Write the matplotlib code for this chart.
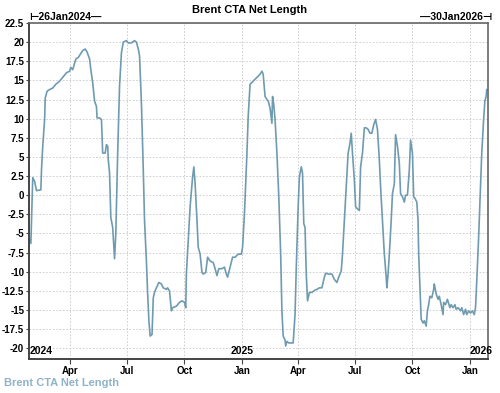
import matplotlib
matplotlib.use('Agg')
import matplotlib.pyplot as plt
import matplotlib.transforms as mtransforms
import pandas as pd

# Brent CTA net length
dates = [
    '2024-01-26', '2024-01-29', '2024-02-01', '2024-02-04', '2024-02-07', '2024-02-14',
    '2024-02-15', '2024-02-17', '2024-02-20', '2024-02-21', '2024-02-24', '2024-02-28',
    '2024-03-04', '2024-03-09', '2024-03-15', '2024-03-20', '2024-03-26', '2024-03-31',
    '2024-04-02', '2024-04-05', '2024-04-10', '2024-04-14', '2024-04-17', '2024-04-21',
    '2024-04-25', '2024-04-28', '2024-05-02', '2024-05-04', '2024-05-07', '2024-05-10',
    '2024-05-13', '2024-05-14', '2024-05-18', '2024-05-21', '2024-05-23', '2024-05-27',
    '2024-05-29', '2024-05-31', '2024-06-01', '2024-06-03', '2024-06-04', '2024-06-05',
    '2024-06-08', '2024-06-11', '2024-06-13', '2024-06-16', '2024-06-19', '2024-06-22',
    '2024-06-25', '2024-06-30', '2024-07-03', '2024-07-08', '2024-07-13', '2024-07-16',
    '2024-07-19', '2024-07-21', '2024-07-24', '2024-07-27', '2024-07-29', '2024-08-01',
    '2024-08-03', '2024-08-05', '2024-08-07', '2024-08-10', '2024-08-12', '2024-08-14',
    '2024-08-17', '2024-08-21', '2024-08-25', '2024-08-28', '2024-09-02', '2024-09-04',
    '2024-09-07', '2024-09-10', '2024-09-12', '2024-09-18', '2024-09-23', '2024-09-27',
    '2024-10-01', '2024-10-03', '2024-10-04', '2024-10-07', '2024-10-10', '2024-10-14',
    '2024-10-16', '2024-10-18', '2024-10-21', '2024-10-23', '2024-10-26', '2024-10-29',
    '2024-10-31', '2024-11-04', '2024-11-07', '2024-11-11', '2024-11-16', '2024-11-19',
    '2024-11-22', '2024-11-25', '2024-11-30', '2024-12-04', '2024-12-07', '2024-12-09',
    '2024-12-13', '2024-12-17', '2024-12-21', '2024-12-26', '2024-12-31', '2025-01-02',
    '2025-01-05', '2025-01-09', '2025-01-11', '2025-01-14', '2025-01-19', '2025-01-25',
    '2025-01-30', '2025-02-02', '2025-02-04', '2025-02-07', '2025-02-10', '2025-02-12',
    '2025-02-15', '2025-02-18', '2025-02-19', '2025-02-21', '2025-02-23', '2025-02-26',
    '2025-03-01', '2025-03-04', '2025-03-06', '2025-03-08', '2025-03-11', '2025-03-12',
    '2025-03-14', '2025-03-17', '2025-03-20', '2025-03-24', '2025-03-27', '2025-03-29',
    '2025-04-01', '2025-04-03', '2025-04-06', '2025-04-08', '2025-04-10', '2025-04-12',
    '2025-04-14', '2025-04-16', '2025-04-19', '2025-04-23', '2025-04-28', '2025-05-01',
    '2025-05-05', '2025-05-09', '2025-05-13', '2025-05-15', '2025-05-20', '2025-05-25',
    '2025-05-29', '2025-06-02', '2025-06-05', '2025-06-09', '2025-06-11', '2025-06-14',
    '2025-06-17', '2025-06-20', '2025-06-23', '2025-06-25', '2025-06-27', '2025-06-30',
    '2025-07-02', '2025-07-05', '2025-07-08', '2025-07-10', '2025-07-13', '2025-07-16',
    '2025-07-19', '2025-07-22', '2025-07-25', '2025-07-28', '2025-07-31', '2025-08-03',
    '2025-08-06', '2025-08-09', '2025-08-11', '2025-08-14', '2025-08-17', '2025-08-20',
    '2025-08-21', '2025-08-23', '2025-08-25', '2025-08-28', '2025-08-30', '2025-09-02',
    '2025-09-04', '2025-09-07', '2025-09-10', '2025-09-12', '2025-09-15', '2025-09-18',
    '2025-09-20', '2025-09-23', '2025-09-26', '2025-09-28', '2025-10-01', '2025-10-03',
    '2025-10-05', '2025-10-08', '2025-10-10', '2025-10-11', '2025-10-13', '2025-10-15',
    '2025-10-18', '2025-10-20', '2025-10-23', '2025-10-25', '2025-10-27', '2025-10-29',
    '2025-11-01', '2025-11-04', '2025-11-05', '2025-11-08', '2025-11-11', '2025-11-13',
    '2025-11-16', '2025-11-19', '2025-11-20', '2025-11-23', '2025-11-26', '2025-11-30',
    '2025-12-02', '2025-12-05', '2025-12-08', '2025-12-10', '2025-12-13', '2025-12-17',
    '2025-12-19', '2025-12-22', '2025-12-25', '2025-12-27', '2025-12-30', '2026-01-02',
    '2026-01-05', '2026-01-08', '2026-01-10', '2026-01-12', '2026-01-15', '2026-01-18',
    '2026-01-20', '2026-01-23', '2026-01-25', '2026-01-27', '2026-01-28',
]
net_length = [
    -5.5, -6.3, 2.3, 1.8, 0.6, 0.7,
    3.3, 6.4, 9.9, 12.7, 13.6, 13.8,
    14.0, 14.5, 14.9, 15.4, 16.0, 16.2,
    16.7, 16.4, 17.8, 18.0, 18.4, 18.9,
    19.1, 18.7, 17.8, 16.4, 14.7, 12.3,
    11.6, 10.1, 10.1, 9.9, 5.5, 5.5,
    6.6, 6.4, 4.6, 2.9, 0.2, -2.9,
    -4.2, -8.3, -5.0, 5.5, 14.3, 18.6,
    20.0, 20.2, 19.9, 19.9, 20.2, 20.0,
    19.1, 18.2, 12.1, 3.3, -3.3, -8.6,
    -12.9, -16.4, -18.4, -18.2, -13.4, -12.7,
    -12.1, -11.4, -11.6, -12.1, -12.3, -12.1,
    -12.5, -15.1, -14.7, -14.5, -14.0, -13.8,
    -14.0, -14.7, -10.3, -5.9, -1.5, 2.4,
    3.7, 1.5, -3.3, -6.8, -7.7, -10.1,
    -10.3, -10.1, -8.1, -8.6, -8.8, -9.6,
    -10.5, -9.6, -9.6, -9.4, -10.3, -10.7,
    -9.4, -8.1, -8.1, -7.7, -7.7, -6.8,
    -2.4, 5.5, 10.3, 14.5, 14.9, 15.4,
    15.8, 16.2, 15.8, 12.9, 12.5, 12.3,
    11.4, 9.4, 12.9, 11.8, 9.9, 5.5,
    -0.2, -7.7, -15.1, -18.4, -18.9, -19.7,
    -19.1, -19.3, -19.3, -19.3, -15.6, -9.4,
    -1.5, 2.4, 3.7, 2.9, -3.7, -4.2,
    -10.3, -13.8, -12.7, -12.7, -12.4, -12.3,
    -12.1, -12.1, -10.7, -10.2, -10.3, -10.3,
    -11.0, -11.4, -10.7, -9.9, -7.7, -3.3,
    1.1, 5.5, 6.8, 8.1, 5.5, 2.0,
    -1.5, -1.8, -2.0, 3.7, 5.5, 8.8,
    8.8, 8.6, 8.1, 8.1, 9.2, 9.9,
    8.6, 4.6, 1.1, -3.3, -7.7, -10.7,
    -12.1, -10.3, -7.7, -3.3, 0.2, 1.5,
    7.9, 6.4, 4.2, 0.2, -0.2, -0.9,
    0.0, 0.0, 3.3, 7.2, 5.5, -0.2,
    -0.4, -0.9, -3.3, -7.7, -12.1, -16.2,
    -16.7, -16.4, -17.1, -15.1, -14.3, -13.2,
    -13.4, -12.3, -11.6, -12.9, -13.6, -13.2,
    -14.3, -15.6, -14.0, -14.3, -13.6, -14.7,
    -14.3, -14.7, -14.3, -14.9, -14.7, -15.1,
    -14.7, -15.6, -14.9, -15.6, -15.1, -15.4,
    -15.1, -15.6, -14.7, -11.2, -5.5, 1.1,
    5.5, 9.9, 12.3, 12.9, 13.8,
]
x = pd.to_datetime(dates)

start = pd.Timestamp('2024-01-26')
end = pd.Timestamp('2026-01-30')
yticks = [-20, -17.5, -15, -12.5, -10, -7.5, -5, -2.5, 0, 2.5, 5, 7.5, 10, 12.5, 15, 17.5, 20, 22.5]
ytick_labels = ['-20', '-17.5', '-15', '-12.5', '-10', '-7.5', '-5', '-2.5', '0', '2.5',
                '5', '7.5', '10', '12.5', '15', '17.5', '20', '22.5']
xticks = pd.to_datetime(['2024-04-01', '2024-07-01', '2024-10-01', '2025-01-01',
                         '2025-04-01', '2025-07-01', '2025-10-01', '2026-01-01'])
xtick_labels = ['Apr', 'Jul', 'Oct', 'Jan', 'Apr', 'Jul', 'Oct', 'Jan']
years = ['2024', '2025', '2026']

plt.rcParams['font.family'] = ['Liberation Sans', 'DejaVu Sans']
line_color = '#6f9bb1'

fig = plt.figure(figsize=(5, 3.93), dpi=100)
ax = fig.add_axes([0.058, 0.0865, 0.918, 0.855])
ax.plot(x, net_length, color=line_color, lw=1.2)

ax.set_xlim(start, end)
ax.set_ylim(-21.4, 22.5)
ax.set_yticks(yticks)
ax.set_yticklabels(ytick_labels, fontsize=7, fontweight='bold')
ax.set_xticks(xticks)
ax.set_xticklabels(xtick_labels, fontsize=7, fontweight='bold')
ax.tick_params(axis='y', length=2.5, width=0.8, color='#444444', pad=1)
ax.tick_params(axis='x', length=3.5, width=0.8, color='#444444', pad=1.5)
ax.grid(True, color='#c8c8c8', lw=0.6, ls=(0, (2, 2)))

for side in ['left', 'bottom']:
    ax.spines[side].set_color('#444444')
    ax.spines[side].set_linewidth(1.4)
for side in ['top', 'right']:
    ax.spines[side].set_color('#666666')
    ax.spines[side].set_linewidth(1.2)

# year markers inside the plot along the bottom
trans = mtransforms.blended_transform_factory(ax.transData, ax.transAxes)
ax.text(start + pd.Timedelta(days=1), 0.01, years[0], transform=trans,
        fontsize=7.5, fontweight='bold', ha='left', va='bottom')
ax.text(pd.Timestamp('2025-01-01'), 0.01, years[1], transform=trans,
        fontsize=7.5, fontweight='bold', ha='center', va='bottom')
ax.text(pd.Timestamp('2026-01-01'), 0.01, years[2], transform=trans,
        fontsize=7.5, fontweight='bold', ha='left', va='bottom', clip_on=False)

fig.text(0.5, 0.975, 'Brent CTA Net Length', ha='center', va='center',
         fontsize=8, fontweight='bold')
fig.text(0.058, 0.958, '\u22a226Jan2024\u2014', ha='left', va='center',
         fontsize=7.5, fontweight='bold')
fig.text(0.984, 0.958, '\u201430Jan2026\u22a3', ha='right', va='center',
         fontsize=7.5, fontweight='bold')
fig.text(0.008, 0.026, 'Brent CTA Net Length', ha='left', va='center',
         fontsize=8, fontweight='bold', color='#8fb3c9')

fig.savefig('out.png', dpi=100)
